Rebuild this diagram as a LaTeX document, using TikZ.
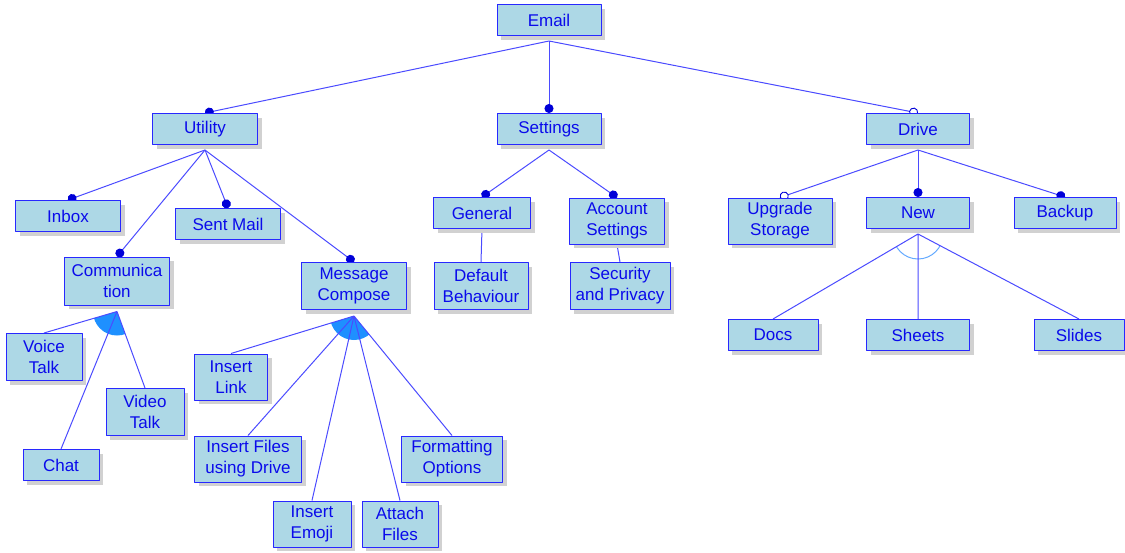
\documentclass[tikz,border=0pt]{standalone}
\usepackage{fontspec}
\setmainfont{Liberation Sans}
\usetikzlibrary{arrows.meta,shadows,backgrounds,positioning}
\definecolor{boxfill}{RGB}{173,216,230}
\definecolor{boxline}{RGB}{40,40,255}
\definecolor{txtblue}{RGB}{10,10,235}
\definecolor{linkblue}{RGB}{75,75,255}
\definecolor{dotblue}{RGB}{0,0,215}
\definecolor{grpfill}{RGB}{30,144,255}
\definecolor{arcblue}{RGB}{100,170,255}
\tikzset{
	feat/.style={draw=boxline, fill=boxfill, line width=1pt, text=txtblue, align=center,
		minimum height=31pt, inner sep=1pt,
		drop shadow={shadow xshift=4pt, shadow yshift=-4pt, fill=black!18, opacity=1}},
	link/.style={draw=linkblue, line width=1pt},
	must/.style={link, -{Circle[length=9pt, width=9pt, color=dotblue]}},
	may/.style={link, -{Circle[length=9pt, width=9pt, color=dotblue, fill=white, line width=0.9pt]}},
}
\begin{document}
\begin{tikzpicture}[x=1pt, y=1pt, line join=round, line cap=round, font=\fontsize{17}{21}\selectfont]
	\useasboundingbox (0,0) rectangle (1125,-552);
	% root and first level
	\node[feat, minimum width=104] (email) at (549,-20) {Email};
	\node[feat, minimum width=105] (utility) at (205,-129) {Utility};
	\node[feat, minimum width=104] (settings) at (549,-129) {Settings};
	\node[feat, minimum width=103] (drive) at (918,-129) {Drive};
	% under Utility
	\node[feat, minimum width=105] (inbox) at (68,-216) {Inbox};
	\node[feat, minimum width=105] (sent) at (228,-224) {Sent Mail};
	\node[feat, minimum width=105, minimum height=48] (comm) at (117,-281) {Communica\\tion};
	\node[feat, minimum width=105, minimum height=47] (compose) at (354,-286) {Message\\Compose};
	\node[feat, minimum width=76, minimum height=47] (voice) at (44,-357) {Voice\\Talk};
	\node[feat, minimum width=78, minimum height=47] (video) at (145,-412) {Video\\Talk};
	\node[feat, minimum width=76] (chat) at (61,-465) {Chat};
	\node[feat, minimum width=73, minimum height=46] (link) at (231,-377) {Insert\\Link};
	\node[feat, minimum width=107, minimum height=46] (files) at (248,-459) {Insert Files\\using Drive};
	\node[feat, minimum width=78, minimum height=46] (emoji) at (312,-524) {Insert\\Emoji};
	\node[feat, minimum width=76, minimum height=46] (attach) at (400,-524) {Attach\\Files};
	\node[feat, minimum width=101, minimum height=46] (format) at (452,-459) {Formatting\\Options};
	% under Settings
	\node[feat, minimum width=97] (general) at (482,-213) {General};
	\node[feat, minimum width=95, minimum height=46] (account) at (617,-221) {Account\\Settings};
	\node[feat, minimum width=94, minimum height=47] (default) at (481,-286) {Default\\Behaviour};
	\node[feat, minimum width=100, minimum height=47] (privacy) at (620,-286) {Security\\and Privacy};
	% under Drive
	\node[feat, minimum width=104, minimum height=46] (upgrade) at (780,-221) {Upgrade\\Storage};
	\node[feat, minimum width=103] (new) at (918,-213) {New};
	\node[feat, minimum width=102] (backup) at (1065,-213) {Backup};
	\node[feat, minimum width=90] (docs) at (773,-335) {Docs};
	\node[feat, minimum width=103] (sheets) at (918,-335) {Sheets};
	\node[feat, minimum width=90] (slides) at (1079,-335) {Slides};
	% group forks
	\coordinate (commfork) at ([yshift=-6pt]comm.south);
	\coordinate (composefork) at ([yshift=-6pt]compose.south);
	\coordinate (newfork) at ([yshift=-5pt]new.south);
	\begin{scope}[on background layer]
		% or-groups: filled sectors, alternative: open arc
		\begin{scope}
			\clip (commfork) -- (voice.north) -- (video.north) -- cycle;
			\fill[grpfill] (commfork) circle (24);
		\end{scope}
		\begin{scope}
			\clip (composefork) -- (link.north) -- (format.north) -- cycle;
			\fill[grpfill] (composefork) circle (24);
		\end{scope}
		\begin{scope}
			\clip (newfork) -- (docs.north) -- (slides.north) -- cycle;
			\draw[arcblue, line width=1pt] (newfork) circle (25);
		\end{scope}
		% connectors
		\draw[must] ([yshift=-5pt]email.south) -- (utility.north);
		\draw[must] ([yshift=-5pt]email.south) -- (settings.north);
		\draw[may] ([yshift=-5pt]email.south) -- (drive.north);
		\draw[must] ([yshift=-5pt]utility.south) -- (inbox.north);
		\draw[must] ([yshift=-5pt]utility.south) -- (sent.north);
		\draw[must] ([yshift=-5pt]utility.south) -- (comm.north);
		\draw[must] ([yshift=-5pt]utility.south) -- (compose.north);
		\draw[must] ([yshift=-5pt]settings.south) -- (general.north);
		\draw[must] ([yshift=-5pt]settings.south) -- (account.north);
		\draw[link] (general.south) -- (default.north)
			(account.south) -- (privacy.north);
		\draw[may] ([yshift=-5pt]drive.south) -- (upgrade.north);
		\draw[must] ([yshift=-5pt]drive.south) -- (new.north);
		\draw[must] ([yshift=-5pt]drive.south) -- (backup.north);
		\draw[link] (commfork) -- (voice.north) (commfork) -- (chat.north) (commfork) -- (video.north);
		\draw[link] (composefork) -- (link.north) (composefork) -- (files.north)
			(composefork) -- (emoji.north) (composefork) -- (attach.north)
			(composefork) -- (format.north);
		\draw[link] (newfork) -- (docs.north) (newfork) -- (sheets.north) (newfork) -- (slides.north);
	\end{scope}
\end{tikzpicture}
\end{document}
